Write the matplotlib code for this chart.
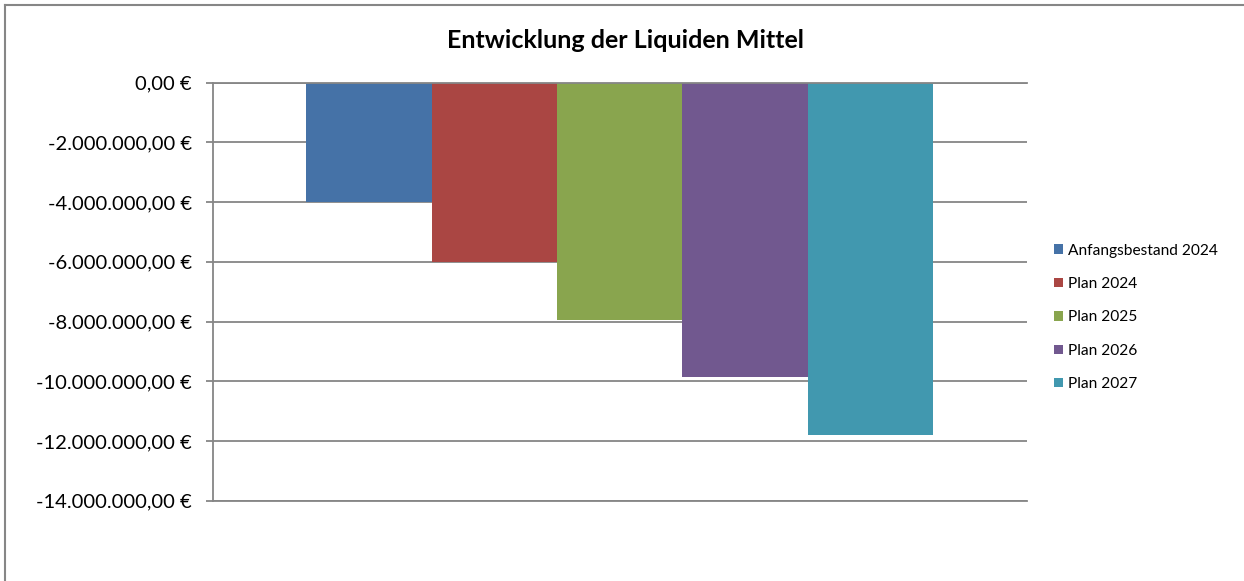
import matplotlib
matplotlib.use("Agg")
import matplotlib.pyplot as plt
from matplotlib.lines import Line2D
from matplotlib.ticker import FuncFormatter, FixedLocator

plt.rcParams['font.family'] = ['Lato', 'DejaVu Sans']

title = "Entwicklung der Liquiden Mittel"
series = ["Anfangsbestand 2024", "Plan 2024", "Plan 2025", "Plan 2026", "Plan 2027"]
values = [-4000000, -6000000, -7950000, -9860000, -11810000]
colors = ["#4572A7", "#AA4643", "#89A54E", "#71588F", "#4198AF"]
yticks = [0, -2000000, -4000000, -6000000, -8000000, -10000000, -12000000, -14000000]

W, H = 1244, 581
fig = plt.figure(figsize=(W / 100, H / 100), dpi=100)
fig.patch.set_facecolor("white")

left, right, top, bottom = 212.7, 1026.7, 82.7, 500.7
ax = fig.add_axes([left / W, 1 - bottom / H, (right - left) / W, (bottom - top) / H])

gray = "#868686"
n = len(series)
w = 0.154
for i, (s, v, c) in enumerate(zip(series, values, colors)):
    ax.bar((i - (n - 1) / 2) * w, v, width=w, color=c, label=s, zorder=2)

ax.set_xlim(-0.5, 0.5)
ax.set_ylim(yticks[-1], 0)
ax.yaxis.set_major_locator(FixedLocator(yticks))


def fmt(v, pos):
    v = round(v)
    s = f"{abs(v):,.2f}".replace(",", "X").replace(".", ",").replace("X", ".")
    return ("-" if v < 0 else "") + s + " €"


ax.yaxis.set_major_formatter(FuncFormatter(fmt))
ax.set_xticks([])
ax.grid(axis="y", color=gray, linewidth=1.3, zorder=1)
ax.set_axisbelow(True)
for sp in ["right"]:
    ax.spines[sp].set_visible(False)
for sp in ["left", "top", "bottom"]:
    ax.spines[sp].set_color(gray)
    ax.spines[sp].set_linewidth(1.3)
ax.spines["top"].set_zorder(3)
ax.tick_params(axis="y", direction="out", length=5, width=1.3, color=gray,
               pad=10, labelsize=14.5, labelcolor="#000000")

fig.text(625.5 / W, 1 - 40 / H, title, ha="center", va="center",
         fontsize=18, fontweight="bold", color="#000000")

leg = ax.legend(loc="upper left", bbox_to_anchor=(1054 / W, 1 - 243.5 / H),
                bbox_transform=fig.transFigure, frameon=False,
                handlelength=0.55, handleheight=0.55, handletextpad=0.35,
                labelspacing=1.25, fontsize=11.2, borderaxespad=0, borderpad=0)

fig.add_artist(Line2D([5 / W, 5 / W], [0, 1 - 5 / H], transform=fig.transFigure,
                      color=gray, linewidth=1.5))
fig.add_artist(Line2D([5 / W, 1], [1 - 5 / H, 1 - 5 / H], transform=fig.transFigure,
                      color=gray, linewidth=1.5))

fig.savefig("out.png", dpi=100, facecolor="white")
